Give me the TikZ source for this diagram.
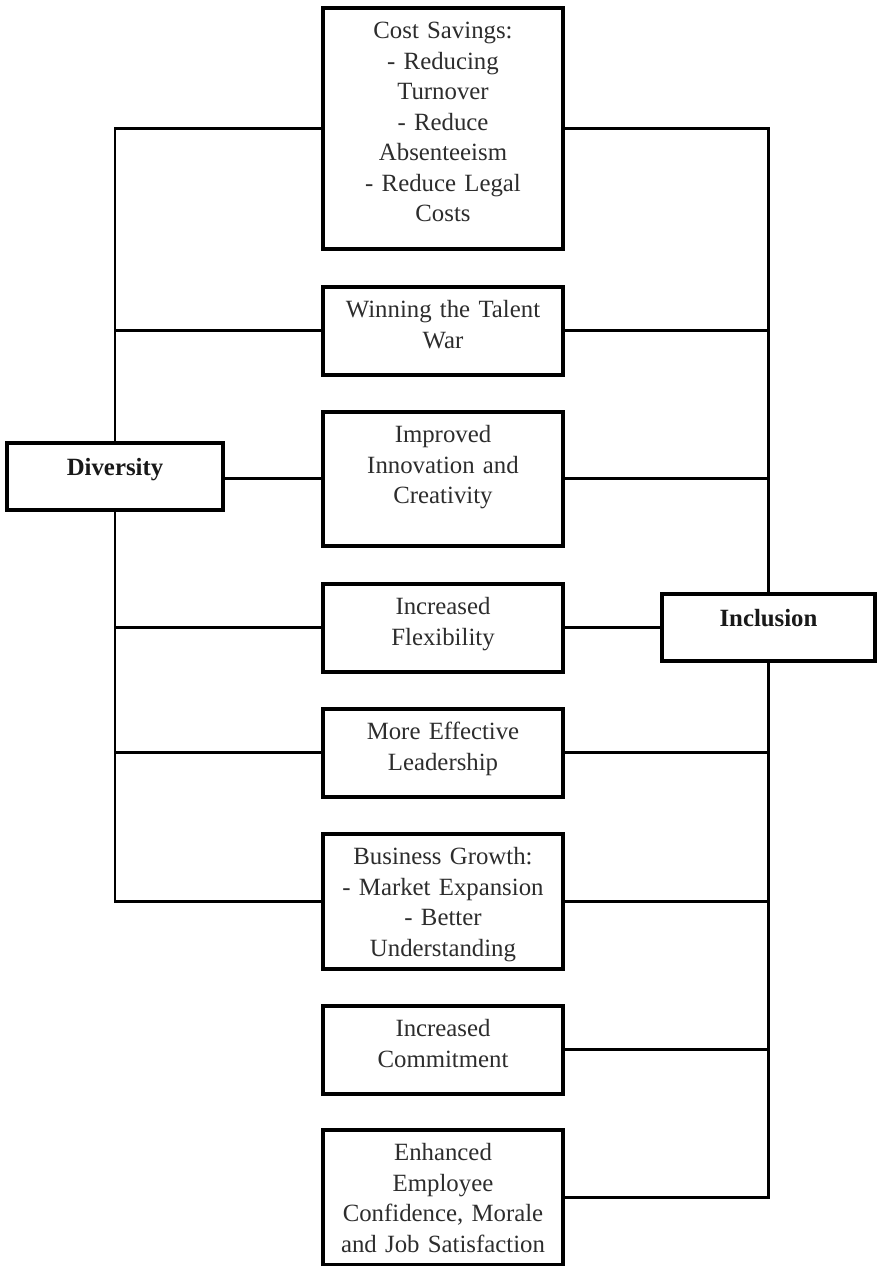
\documentclass[tikz,border=0pt]{standalone}
\usepackage{fontspec}
\setmainfont{Liberation Serif}
\definecolor{textgray}{RGB}{45,45,45}
\definecolor{boldgray}{RGB}{25,25,25}
\begin{document}
\begin{tikzpicture}[x=1pt, y=-1pt,
  box/.style={draw=black, line width=3.6pt, anchor=north, inner xsep=0pt,
    inner ysep=0pt, align=center, text=textgray,
    font=\fontsize{24.8}{30.5}\selectfont},
  midbox/.style={box, minimum width=240pt, text width=236pt, text height=31pt},
  hubbox/.style={box, text width=200pt, text height=33pt, text depth=34pt,
    text=boldgray, font=\fontsize{24.8}{30.5}\selectfont\bfseries},
  link/.style={draw=black, line width=2.8pt}]

  % page
  \fill[white] (0,0) rectangle (878,1266);
  \useasboundingbox (0,0) rectangle (878,1266);

  % benefit boxes in the middle column
  \node[midbox, text depth=210pt] (cost) at (443,6)
    {Cost Savings:\\- Reducing\\Turnover\\- Reduce\\Absenteeism\\- Reduce Legal\\Costs};
  \node[midbox, text depth=57pt] (talent) at (443,285)
    {Winning the Talent\\War};
  \node[midbox, text depth=103pt] (innov) at (443,410)
    {Improved\\Innovation and\\Creativity};
  \node[midbox, text depth=57pt] (flex) at (443,582)
    {Increased\\Flexibility};
  \node[midbox, text depth=57pt] (lead) at (443,707)
    {More Effective\\Leadership};
  \node[midbox, text depth=104pt] (growth) at (443,832)
    {Business Growth:\\- Market Expansion\\- Better\\Understanding};
  \node[midbox, text depth=57pt] (commit) at (443,1004)
    {Increased\\Commitment};
  \node[midbox, text depth=104pt] (morale) at (443,1128)
    {Enhanced\\Employee\\Confidence, Morale\\and Job Satisfaction};

  % the two hubs
  \node[hubbox, minimum width=216pt] (div) at (115,441) {Diversity};
  \node[hubbox, minimum width=213pt] (incl) at (768.5,592) {Inclusion};

  % Diversity side
  \draw[link] (cost.west) -| (div.north);
  \draw[link] (talent.west) -- (talent.west -| div.north);
  \draw[link] (div.east |- innov.west) -- (innov.west);
  \draw[link] (div.south) |- (growth.west);
  \draw[link] (flex.west) -- (flex.west -| div.south);
  \draw[link] (lead.west) -- (lead.west -| div.south);

  % Inclusion side
  \draw[link] (cost.east) -| (incl.north);
  \draw[link] (talent.east) -- (talent.east -| incl.north);
  \draw[link] (innov.east) -- (innov.east -| incl.north);
  \draw[link] (flex.east) -- (flex.east -| incl.west);
  \draw[link] (incl.south) |- (morale.east);
  \draw[link] (lead.east) -- (lead.east -| incl.south);
  \draw[link] (growth.east) -- (growth.east -| incl.south);
  \draw[link] (commit.east) -- (commit.east -| incl.south);
\end{tikzpicture}
\end{document}
